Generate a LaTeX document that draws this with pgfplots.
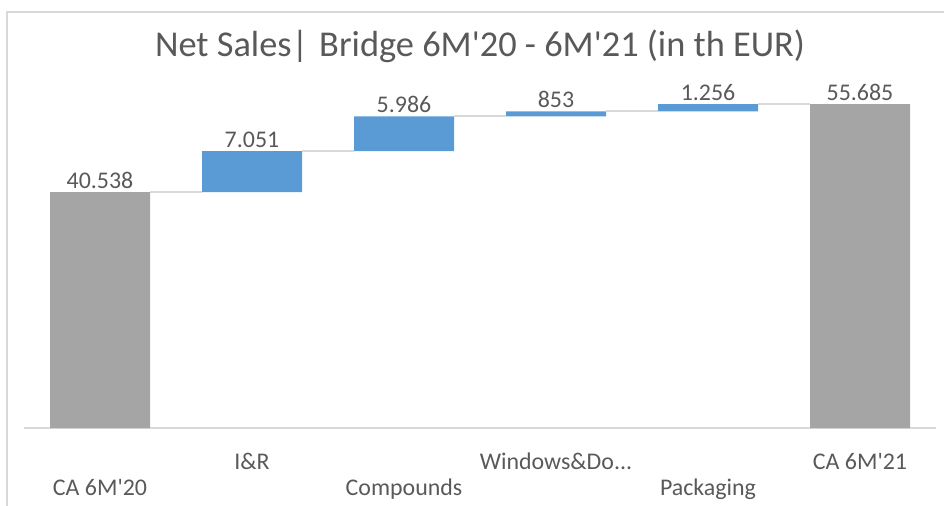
\documentclass[border=0pt]{standalone}
\usepackage{pgfplots}
\pgfplotsset{compat=1.18}
\usepackage{fontspec}
\setmainfont{Carlito}
\definecolor{bargray}{HTML}{A5A5A5}
\definecolor{barblue}{HTML}{5B9BD5}
\definecolor{txt}{HTML}{595959}
\definecolor{lgrid}{HTML}{D9D9D9}
\newcommand{\ap}{\textquotesingle}

\pgfplotsset{bridge/.style={
    scale only axis, width=912bp, height=349bp,
    xmin=-0.5, xmax=5.5, ymin=0, ymax=60000,
    at={(24bp,78bp)}, anchor=south west, clip=false},
  conn/.style={lgrid, line width=2bp, mark=none}}

\begin{document}
\begin{tikzpicture}
\path[use as bounding box] (0,0) rectangle (944bp,506bp);
\draw[lgrid, line width=1.5bp] (7bp,0) -- (7bp,494bp) -- (944bp,494bp);
\node[text=txt, font=\fontsize{36.5}{40}\selectfont] at (480bp,460bp)
    {Net Sales|\hspace{0.3em}Bridge 6M\ap20 - 6M\ap21 (in th EUR)};

\begin{axis}[bridge,
    ybar stacked, bar width=100bp,
    axis y line=none, axis x line*=bottom,
    x axis line style={lgrid, line width=1.5bp, -},
    ytick=\empty,
    xtick={0,2,4},
    xticklabels={{CA 6M\ap20}, Compounds, Packaging},
    extra x ticks={1,3,5},
    extra x tick labels={I\&R, {Windows\&Do{.}{.}{.}}, {CA 6M\ap21}},
    extra x tick style={xticklabel style={yshift=26bp}},
    major tick length=0pt,
    xticklabel style={anchor=base, yshift=-67bp, text=txt,
        font=\fontsize{24}{28}\selectfont},
]
% invisible base
\addplot[draw=none, fill=none] coordinates {
    (0,0) (1,40538) (2,47589) (3,53575) (4,54428) (5,0)};
% totals
\addplot[draw=none, fill=bargray] coordinates {
    (0,40538) (1,0) (2,0) (3,0) (4,0) (5,55685)};
% increases
\addplot[draw=none, fill=barblue] coordinates {
    (0,0) (1,7051) (2,5986) (3,853) (4,1256) (5,0)};
\end{axis}

% connectors and value labels
\begin{axis}[bridge, axis lines=none]
\addplot[conn] coordinates {(0.329,40538) (0.671,40538)};
\addplot[conn] coordinates {(1.329,47589) (1.671,47589)};
\addplot[conn] coordinates {(2.329,53575) (2.671,53575)};
\addplot[conn] coordinates {(3.329,54428) (3.671,54428)};
\addplot[conn] coordinates {(4.329,55685) (4.671,55685)};
\addplot[draw=none, mark=none, point meta=explicit symbolic,
    nodes near coords={\pgfplotspointmeta},
    every node near coord/.append style={anchor=base, inner sep=0pt,
        yshift=4bp, text=txt, font=\fontsize{24}{28}\selectfont}]
    coordinates {(0,40538) [40.538] (1,47589) [7.051] (2,53575) [5.986]
                 (3,54428) [853] (4,55684) [1.256] (5,55685) [55.685]};
\end{axis}
\end{tikzpicture}
\end{document}
